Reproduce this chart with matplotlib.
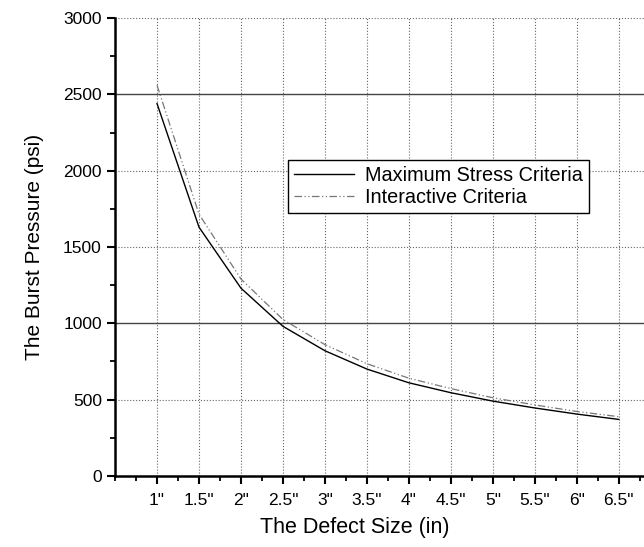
import matplotlib
matplotlib.use("Agg")
import matplotlib.pyplot as plt
from matplotlib.ticker import MultipleLocator

plt.rcParams['font.family'] = ['Liberation Sans', 'DejaVu Sans']

defect_size = [1.0, 1.5, 2.0, 2.5, 3.0, 3.5, 4.0, 4.5, 5.0, 5.5, 6.0, 6.5]
max_stress = [2440, 1630, 1230, 980, 820, 700, 610, 545, 490, 445, 405, 370]
interactive = [2560, 1715, 1290, 1025, 860, 735, 640, 572, 512, 465, 422, 388]
tick_labels = ['1"', '1.5"', '2"', '2.5"', '3"', '3.5"', '4"', '4.5"', '5"', '5.5"', '6"', '6.5"']

fig = plt.figure(figsize=(6.44, 5.47), dpi=100)
ax = fig.add_axes([0.1786, 0.130, 0.8214, 0.837])

ax.plot(defect_size, max_stress, color='black', lw=1.0, label='Maximum Stress Criteria')
ax.plot(defect_size, interactive, color='#777777', lw=0.9, dashes=(6, 2, 1, 2, 1, 2),
        label='Interactive Criteria')

ax.set_xlim(0.5, 6.8)
ax.set_ylim(0, 3000)
ax.set_xticks(defect_size)
ax.set_xticklabels(tick_labels)
ax.xaxis.set_minor_locator(MultipleLocator(0.25))
ax.yaxis.set_major_locator(MultipleLocator(500))
ax.yaxis.set_minor_locator(MultipleLocator(250))

for side in ['top', 'right']:
    ax.spines[side].set_visible(False)
for side in ['left', 'bottom']:
    ax.spines[side].set_linewidth(1.8)

ax.tick_params(which='major', direction='out', length=6, width=1.5, labelsize=12.5)
ax.tick_params(which='minor', direction='out', length=3.5, width=1.3)
ax.tick_params(axis='x', pad=6)

ax.grid(True, which='major', color='#666666', ls=':', lw=0.8)
# the scanned original shows two of the horizontal gridlines as solid
for line, val in zip(ax.yaxis.get_gridlines(), ax.get_yticks()):
    if val in (1000, 2500):
        line.set_linestyle('-')
        line.set_color('#444444')
        line.set_linewidth(1.0)

ax.set_xlabel('The Defect Size (in)', fontsize=15.5)
ax.xaxis.set_label_coords(0.454, -0.09)
ax.set_ylabel('The Burst Pressure (psi)', fontsize=15, labelpad=14)

leg = ax.legend(loc='upper left', bbox_to_anchor=(0.327, 0.69), fontsize=14.3,
                frameon=True, fancybox=False, edgecolor='black', framealpha=1,
                handlelength=3.0, handletextpad=0.6, borderpad=0.3, labelspacing=0.15,
                borderaxespad=0)
leg.get_frame().set_linewidth(1.0)

fig.savefig('out.png', dpi=100)
